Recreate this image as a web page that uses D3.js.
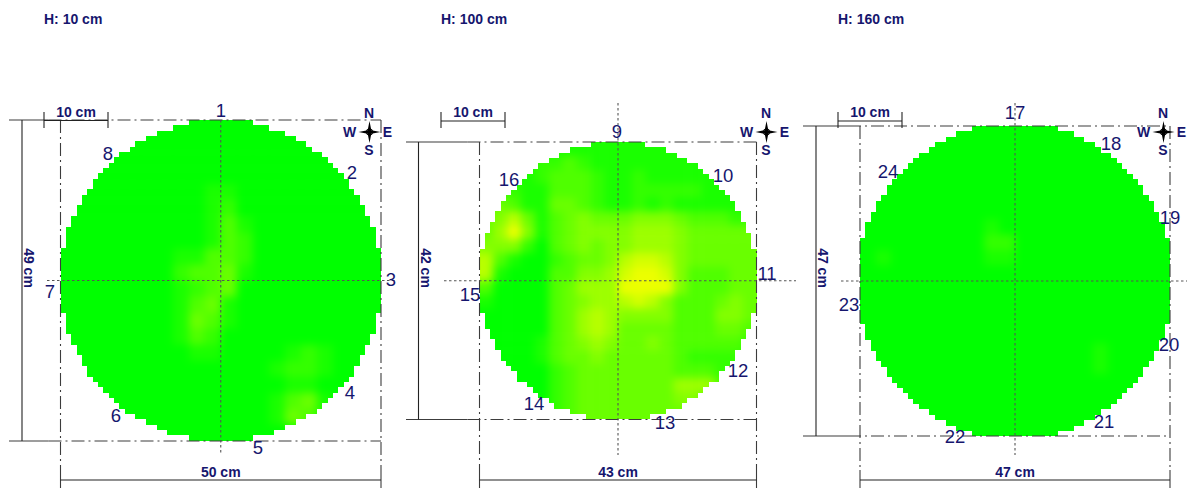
<!DOCTYPE html>
<html><head><meta charset="utf-8">
<script src="https://cdn.jsdelivr.net/npm/d3@7"></script>
<style>html,body{margin:0;background:#fff}svg{display:block}</style></head>
<body><svg id="c" width="1187" height="488"></svg>
<script>
const heights = ["H: 10 cm", "H: 100 cm", "H: 160 cm"];
const widthsCm = [50, 43, 47];
const depthsCm = [49, 42, 47];
const sensors = [[1,2,3,4,5,6,7,8],[9,10,11,12,13,14,15,16],[17,18,19,20,21,22,23,24]];
// heat level 0-9 per grid cell
const heatA = [
"00000000000000000000","00000000000000000000","00000000000000000000","00000000000000000000",
"00000000011000000000","00000000012000000000","00000000013100000000","00000000013200000000",
"00000001133200000000","00000002334100000000","00000001234000000000","00000001341000000000",
"00000001431000000000","00000001320000000000","00000000110000121000","00000000000001221000",
"00000000000000110000","00000000000001341000","00000000000001431000","00000000000000000000"];
const heatB = [
"11111111111111111111","11112232111111111111","11112333211211111111","22211333211222221111",
"34311443211212111111","45741345444555433322","46951345555666544444","55520345455666544444",
"73100234457887544444","71000335568998533344","30000346669999533344","10000345667875333454",
"00000346765555333554","00000346764444333443","00001345654454333332","00001344544444322222",
"00000234444444333222","00000234444444666322","00000234444444553211","00000234444444441111"];
const heatC = [
"00000000000000000000","00000000000000000000","00000000000000000000","00000000000000000000",
"00000000000000000000","00000000000000000000","00000000100000000000","00000000220000000000",
"01000000110000000000","00000000000000000000","00000000000000000000","00000000000000000000",
"00000000000000000000","00000000000000000000","00000000000000010000","00000000000000010000",
"00000000000000000000","00000000000000000000","00000000000000000000","00000000000000000000"];
const heats = [heatA, heatB, heatC];

// layout (pixels)
const panels = [
 {x0:60.5,x1:381,y0:120,y1:441,R:160.7,cells:60,dimX:22,ext:9,crossX:[47,397],crossY:[120,453],barX:44,barY:120.5,barTextY:112,dimTextY:268,comp:[369.5,132],
  labels:[[221,110],[352,172],[391,279],[350,392],[258,447],[116,415],[50,291],[108,153]]},
 {x0:479.5,x1:756.5,y0:142,y1:419.5,R:139.2,cells:52,dimX:418.5,ext:406,crossX:[444,796],crossY:[103,455],barX:441,barY:121,barTextY:112,dimTextY:268,comp:[766.5,132],
  labels:[[617,131],[723,175],[767,273],[738,370],[665,422],[534,403],[470,294],[509,179]]},
 {x0:860,x1:1170,y0:126,y1:436,R:157.8,cells:58,dimX:816,ext:803,crossX:[841,1187],crossY:[103,455],barX:838,barY:121,barTextY:112,dimTextY:268,comp:[1163.5,132],
  labels:[[1015,112],[1111,143],[1170,217],[1169,344],[1104,421],[955,436],[849,304],[888,171]]}
];
const navy = "#16166e", lineC = "#3c3c3c";
const titleX = [44, 441, 838];
const color = d3.scaleLinear().domain([0, 9]).range(["#00ff00", "#ecff00"]);
const svg = d3.select("#c");
const defs = svg.append("defs");
defs.append("filter").attr("id","soft").attr("x","-10%").attr("y","-10%").attr("width","120%").attr("height","120%")
  .attr("color-interpolation-filters","sRGB")
  .append("feGaussianBlur").attr("stdDeviation",4);

panels.forEach((p, i) => {
  const g = svg.append("g");
  const sx = d3.scaleLinear().domain([0, widthsCm[i]]).range([p.x0, p.x1]);
  const sy = d3.scaleLinear().domain([0, depthsCm[i]]).range([p.y0, p.y1]);
  const cx = (p.x0 + p.x1) / 2, cy = (p.y0 + p.y1) / 2, cell = (p.x1 - p.x0) / p.cells;

  // stepped circular mask
  const clip = defs.append("clipPath").attr("id", "m" + i);
  const rows = d3.range(p.cells).map(r => {
    const yc = p.y0 + (r + .5) * cell;
    const cols = d3.range(p.cells).filter(k => Math.hypot(p.x0 + (k + .5) * cell - cx, yc - cy) <= p.R);
    return {r, a: d3.min(cols), b: d3.max(cols)};
  }).filter(d => d.a !== undefined);
  clip.selectAll("rect").data(rows).join("rect")
    .attr("x", d => p.x0 + d.a * cell).attr("y", d => p.y0 + d.r * cell)
    .attr("width", d => (d.b - d.a + 1) * cell).attr("height", cell + .2)
    .attr("shape-rendering", "crispEdges");

  // heat cells
  const m = heats[i], n = m.length;
  const hx = d3.scaleLinear().domain([0, n]).range([p.x0, p.x1]);
  const hy = d3.scaleLinear().domain([0, n]).range([p.y0, p.y1]);
  const pad = 4, clampI = d3.scaleLinear().domain([0, n - 1]).range([0, n - 1]).clamp(true);
  const cellsData = [];
  for (let r = -pad; r < n + pad; r++) for (let c = -pad; c < n + pad; c++)
    cellsData.push({r, c, v: +m[clampI(r)][clampI(c)]});
  const heat = g.append("g").attr("clip-path", `url(#m${i})`);
  heat.append("g").attr("filter", "url(#soft)").selectAll("rect").data(cellsData).join("rect")
    .attr("x", d => hx(d.c)).attr("y", d => hy(d.r))
    .attr("width", hx(1) - hx(0) + .6).attr("height", hy(1) - hy(0) + .6)
    .attr("fill", d => color(d.v));

  const line = (x1, y1, x2, y2, dash, col) => g.append("line")
    .attr("x1", x1).attr("y1", y1).attr("x2", x2).attr("y2", y2)
    .attr("stroke", col || lineC).attr("stroke-width", 1.1)
    .attr("stroke-dasharray", dash || null);
  const DD = "13,4,2,4", DOT = "2.5,2.5";
  // frame
  line(p.ext, p.y0, p.x0 - 12, p.y0); line(p.x0 - 12, p.y0, p.x1, p.y0, DD);
  line(p.ext, p.y1, p.x0 - 12, p.y1); line(p.x0 - 12, p.y1, p.x1, p.y1, DD);
  [p.x0, p.x1].forEach(x => { line(x, p.y0, x, 470, DD); line(x, 470, x, 488); });
  // cross
  line(p.crossX[0], cy, p.crossX[1], cy, DOT, "#555");
  line(cx, p.crossY[0], cx, p.crossY[1], DOT, "#555");
  // dimensions
  line(sx(0), 480, sx(widthsCm[i]), 480, null, "#222");
  line(p.dimX, sy(0), p.dimX, sy(depthsCm[i]), null, "#222");
  // scale bar
  line(p.barX, p.barY, p.barX + 64, p.barY, null, "#222");
  line(p.barX, 112, p.barX, 128, null, "#222");
  line(p.barX + 64, 112, p.barX + 64, 128, null, "#222");

  const small = (t, x, y, rot) => g.append("text").text(t)
    .attr("transform", `translate(${x},${y})` + (rot ? ` rotate(${rot})` : ""))
    .attr("text-anchor", "middle").attr("dominant-baseline", "central")
    .attr("font-family", "'Liberation Sans',Arial,sans-serif").attr("font-weight", "bold")
    .attr("font-size", 14).attr("fill", navy);
  small("10 cm", p.barX + 32, p.barTextY);
  small(widthsCm[i] + " cm", cx, 472);
  small(depthsCm[i] + " cm", p.dimX + 7, p.dimTextY, 90);
  svg.append("text").text(heights[i]).attr("x", titleX[i]).attr("y", 24)
    .attr("font-family", "'Liberation Sans',Arial,sans-serif").attr("font-weight", "bold")
    .attr("font-size", 14).attr("fill", navy);

  // compass
  const [kx, ky] = p.comp;
  const star = d3.path(), L = 11, w = 1.8;
  star.moveTo(kx, ky - L); star.lineTo(kx + w, ky - w); star.lineTo(kx + L, ky); star.lineTo(kx + w, ky + w);
  star.lineTo(kx, ky + L); star.lineTo(kx - w, ky + w); star.lineTo(kx - L, ky); star.lineTo(kx - w, ky - w); star.closePath();
  g.append("path").attr("d", star.toString()).attr("fill", "#000");
  g.append("circle").attr("cx", kx).attr("cy", ky).attr("r", 3.2).attr("fill", "none").attr("stroke", "#000").attr("stroke-width", 1);
  small("N", kx - .5, ky - 19); small("S", kx - .5, ky + 18); small("W", kx - 20, ky); small("E", kx + 18, ky);

  // sensor numbers
  g.selectAll(".num").data(sensors[i]).join("text").attr("class", "num")
    .text(d => d)
    .attr("x", (d, k) => p.labels[k][0]).attr("y", (d, k) => p.labels[k][1])
    .attr("text-anchor", "middle").attr("dominant-baseline", "central")
    .attr("font-family", "'Liberation Sans',Arial,sans-serif")
    .attr("font-size", 18.5).attr("fill", navy);
});
</script></body></html>
